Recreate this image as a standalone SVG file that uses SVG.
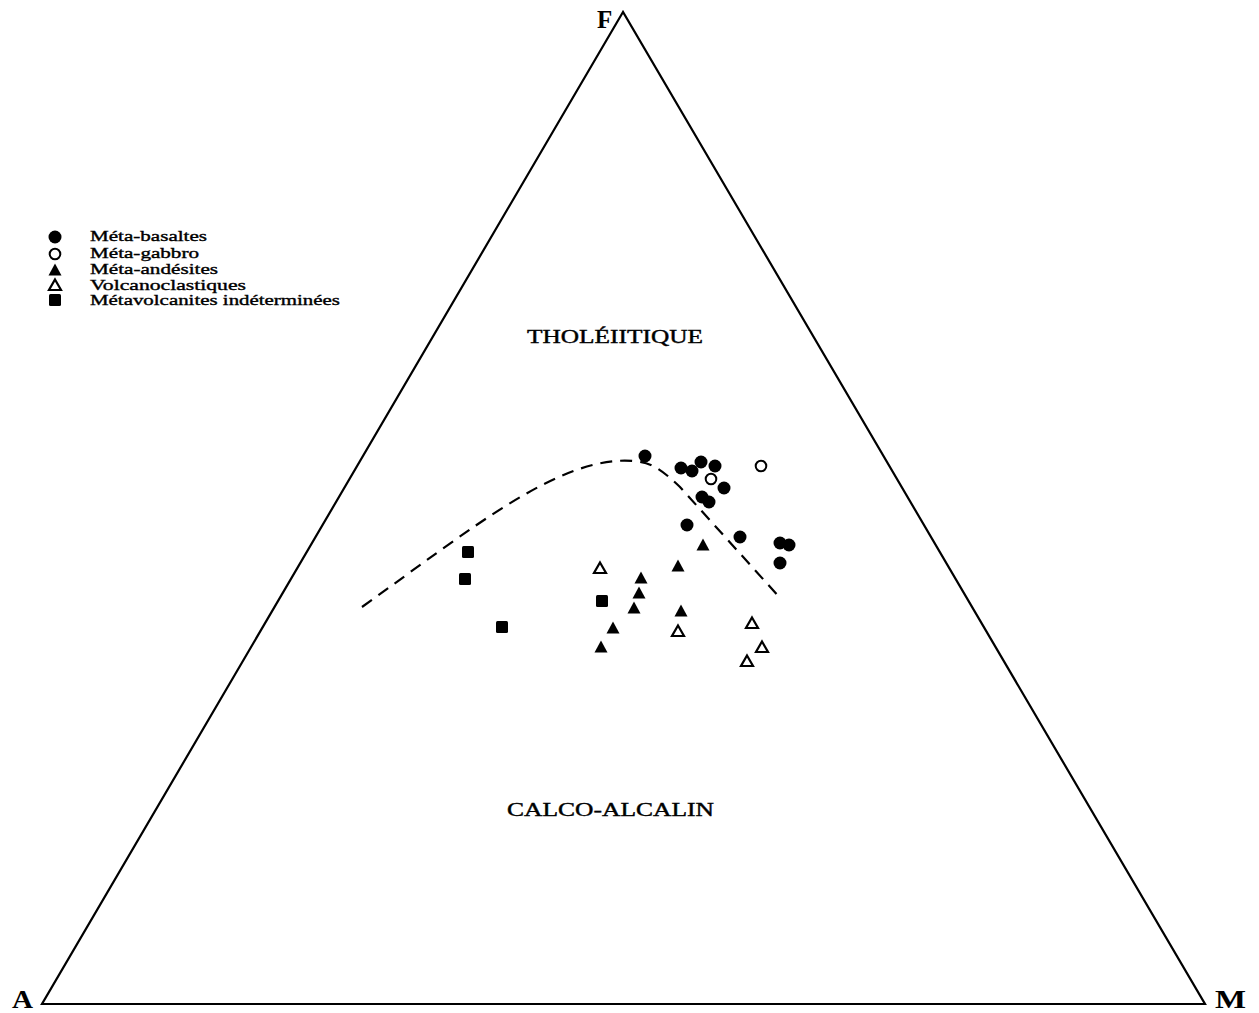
<svg xmlns="http://www.w3.org/2000/svg" width="1259" height="1013" viewBox="0 0 1259 1013">
<style>
.ax{font-family:"Liberation Serif","DejaVu Serif",serif;font-weight:bold;font-size:25px;fill:#000}
.lg{font-family:"Liberation Serif","DejaVu Serif",serif;font-size:14px;fill:#000;stroke:#000;stroke-width:0.35}
.fd{font-family:"Liberation Serif","DejaVu Serif",serif;font-size:19px;fill:#000;stroke:#000;stroke-width:0.4}
</style>
<defs>
<circle id="fc" r="6.5" fill="#000"/>
<circle id="oc" r="5.3" fill="#fff" stroke="#000" stroke-width="2"/>
<path id="ft" d="M0,-6.5 L6.5,5.5 L-6.5,5.5 Z" fill="#000"/>
<path id="ot" d="M0,-5.5 L6,5 L-6,5 Z" fill="#fff" stroke="#000" stroke-width="2.2" stroke-linejoin="miter"/>
<rect id="sq" x="-6" y="-6" width="12" height="12" rx="1.5" fill="#000"/>
</defs>
<rect width="1259" height="1013" fill="#fff"/>
<g id="triangle">
<path d="M623,12 L42,1004 L1205,1004 Z" fill="none" stroke="#000" stroke-width="2.2" stroke-linejoin="miter"/>
</g>
<g id="labels">
<text class="ax" x="597" y="28">F</text>
<text class="ax" x="12" y="1008" textLength="21" lengthAdjust="spacingAndGlyphs">A</text>
<text class="ax" x="1215" y="1008" textLength="31" lengthAdjust="spacingAndGlyphs">M</text>
<text class="fd" x="527" y="343" textLength="176" lengthAdjust="spacingAndGlyphs">THOLÉIITIQUE</text>
<text class="fd" x="507" y="816" textLength="207" lengthAdjust="spacingAndGlyphs">CALCO-ALCALIN</text>
</g>
<g id="legend">
<use href="#fc" x="55" y="237"/>
<text class="lg" x="90" y="241" textLength="117" lengthAdjust="spacingAndGlyphs">Méta-basaltes</text>
<use href="#oc" x="55" y="254"/>
<text class="lg" x="90" y="258" textLength="109" lengthAdjust="spacingAndGlyphs">Méta-gabbro</text>
<use href="#ft" x="55" y="270"/>
<text class="lg" x="90" y="274" textLength="128" lengthAdjust="spacingAndGlyphs">Méta-andésites</text>
<use href="#ot" x="55" y="285"/>
<text class="lg" x="90" y="290" textLength="156" lengthAdjust="spacingAndGlyphs">Volcanoclastiques</text>
<use href="#sq" x="55" y="300"/>
<text class="lg" x="90" y="305" textLength="250" lengthAdjust="spacingAndGlyphs">Métavolcanites indéterminées</text>
</g>
<g id="connectors">
<path d="M362,607 C470,530 560,455 633,461 C650,462 660,468 680,487 L781,599" fill="none" stroke="#000" stroke-width="2.2" stroke-dasharray="12,8"/>
</g>
<g id="meta-basaltes">
<use href="#fc" x="645" y="456"/>
<use href="#fc" x="681" y="468"/>
<use href="#fc" x="692" y="471"/>
<use href="#fc" x="701" y="462"/>
<use href="#fc" x="715" y="466"/>
<use href="#fc" x="724" y="488"/>
<use href="#fc" x="702" y="497"/>
<use href="#fc" x="709" y="502"/>
<use href="#fc" x="687" y="525"/>
<use href="#fc" x="740" y="537"/>
<use href="#fc" x="780" y="543"/>
<use href="#fc" x="789" y="545"/>
<use href="#fc" x="780" y="563"/>
</g>
<g id="meta-gabbro">
<use href="#oc" x="711" y="479"/>
<use href="#oc" x="761" y="466"/>
</g>
<g id="meta-andesites">
<use href="#ft" x="703" y="545"/>
<use href="#ft" x="678" y="566"/>
<use href="#ft" x="641" y="578"/>
<use href="#ft" x="639" y="593"/>
<use href="#ft" x="634" y="608"/>
<use href="#ft" x="681" y="611"/>
<use href="#ft" x="613" y="628"/>
<use href="#ft" x="601" y="647"/>
</g>
<g id="volcanoclastiques">
<use href="#ot" x="600" y="568"/>
<use href="#ot" x="678" y="631"/>
<use href="#ot" x="752" y="623"/>
<use href="#ot" x="762" y="647"/>
<use href="#ot" x="747" y="661"/>
</g>
<g id="metavolcanites">
<use href="#sq" x="602" y="601"/>
<use href="#sq" x="468" y="552"/>
<use href="#sq" x="465" y="579"/>
<use href="#sq" x="502" y="627"/>
</g>
</svg>
